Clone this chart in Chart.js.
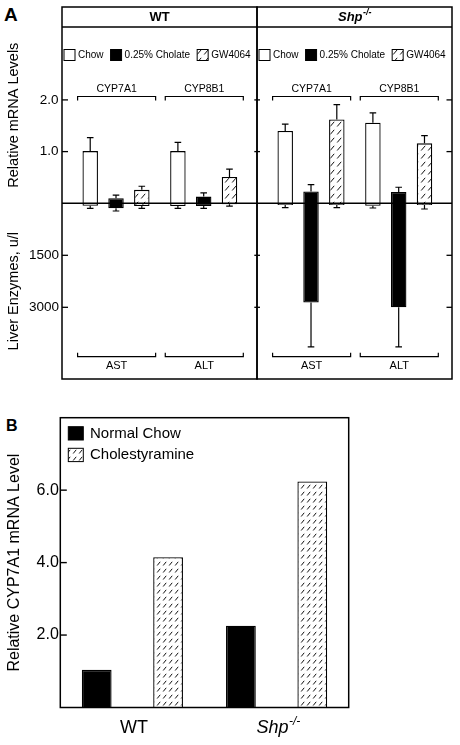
<!DOCTYPE html>
<html><head><meta charset="utf-8">
<script src="https://cdn.jsdelivr.net/npm/chart.js@4.4.1/dist/chart.umd.min.js"></script>
<style>
html,body{margin:0;padding:0;background:#fff;}
body{width:460px;height:745px;position:relative;overflow:hidden;font-family:'Liberation Sans',Arial,Helvetica,sans-serif;}
canvas{position:absolute;left:0;}
#caWT,#caShp{top:0;}
#cb{top:385px;}
.pl{position:absolute;font-weight:bold;color:#000;line-height:1;}
</style></head><body>
<div class="pl" style="left:4px;top:4.5px;font-size:19px">A</div>
<div class="pl" style="left:6px;top:418px;font-size:16px">B</div>
<canvas id="caWT" width="460" height="385"></canvas>
<canvas id="caShp" width="460" height="385"></canvas>
<canvas id="cb" width="460" height="360"></canvas>
<script>
// ---------- Panel A data ----------
const genotypes = ['WT', 'Shp-/-'];
const treatments = ['Chow', '0.25% Cholate', 'GW4064'];
const genes = ['CYP7A1', 'CYP8B1'];
const enzymes = ['AST', 'ALT'];
const mrnaTicks = [1.0, 2.0];
const enzymeTicks = [1500, 3000];

// Relative mRNA levels [CYP7A1, CYP8B1]
const wtMrnaChow = [1.01, 1.01];
const wtMrnaCholate = [0.10, 0.13];
const wtMrnaGW = [0.26, 0.51];
const wtMrnaChowErr = [0.26, 0.17];
const wtMrnaCholateErr = [0.06, 0.07];
const wtMrnaGWErr = [0.07, 0.15];
const shpMrnaChow = [1.40, 1.56];
const shpMrnaCholate = [0.23, 0.22];
const shpMrnaGW = [1.62, 1.16];
const shpMrnaChowErr = [0.13, 0.19];
const shpMrnaCholateErr = [0.13, 0.09];
const shpMrnaGWErr = [0.29, 0.15];

// Liver enzymes, u/l [AST, ALT]
const wtEnzChow = [70, 78];
const wtEnzCholate = [145, 80];
const wtEnzGW = [78, 25];
const wtEnzChowErr = [75, 67];
const wtEnzCholateErr = [77, 65];
const wtEnzGWErr = [67, 55];
const shpEnzChow = [50, 70];
const shpEnzCholate = [2860, 3000];
const shpEnzGW = [50, 50];
const shpEnzChowErr = [77, 65];
const shpEnzCholateErr = [1280, 1140];
const shpEnzGWErr = [77, 115];

// ---------- Panel B data ----------
const groupsB = ['WT', 'Shp-/-'];
const dietsB = ['Normal Chow', 'Cholestyramine'];
const cypNormalChow = [1.04, 2.26];
const cypCholestyramine = [4.15, 6.24];
const cypTicks = [2.0, 4.0, 6.0];

// ---------- styling ----------
const FONT = "'Liberation Sans', Arial, Helvetica, sans-serif";
Chart.defaults.font.family = FONT;
Chart.defaults.color = '#000';

function makeHatch(w, h) {
  const c = document.createElement('canvas');
  c.width = w; c.height = h;
  const g = c.getContext('2d');
  g.fillStyle = '#fff'; g.fillRect(0, 0, w, h);
  g.strokeStyle = '#111'; g.lineWidth = 1;
  g.beginPath(); g.moveTo(1.2, h - 1.5); g.lineTo(w - 1.8, 1.8); g.stroke();
  return g.createPattern(c, 'repeat');
}
const hatchA = makeHatch(7, 8);
const hatchB = makeHatch(6, 7);
const fillA = { 'Chow': '#ffffff', '0.25% Cholate': '#000000', 'GW4064': hatchA };

function splitSup(s) { const m = s.match(/^(.*?)(-\/-)$/); return m ? [m[1], m[2]] : [s, '']; }
function drawLabel(ctx, text, cx, cy, size, weight) {
  const [base, sup] = splitSup(text);
  const style = sup ? 'italic ' : '';
  const f1 = `${style}${weight} ${size}px ${FONT}`;
  const f2 = `${style}${weight} ${Math.round(size * 0.68)}px ${FONT}`;
  ctx.font = f1; const w1 = ctx.measureText(base).width;
  ctx.font = f2; const w2 = sup ? ctx.measureText(sup).width : 0;
  const x = cx - (w1 + w2) / 2;
  ctx.textAlign = 'left'; ctx.textBaseline = 'middle';
  ctx.font = f1; ctx.fillText(base, x, cy);
  if (sup) { ctx.font = f2; ctx.fillText(sup, x + w1 + 0.5, cy - size * 0.36); }
}
function line(ctx, x1, y1, x2, y2) { ctx.beginPath(); ctx.moveTo(x1, y1); ctx.lineTo(x2, y2); ctx.stroke(); }

// ---------- Panel A (one chart per genotype half) ----------
const seriesA = [
  { g: 0, t: 0, m: 'mrna', v: wtMrnaChow, e: wtMrnaChowErr },
  { g: 0, t: 1, m: 'mrna', v: wtMrnaCholate, e: wtMrnaCholateErr },
  { g: 0, t: 2, m: 'mrna', v: wtMrnaGW, e: wtMrnaGWErr },
  { g: 0, t: 0, m: 'enz', v: wtEnzChow, e: wtEnzChowErr },
  { g: 0, t: 1, m: 'enz', v: wtEnzCholate, e: wtEnzCholateErr },
  { g: 0, t: 2, m: 'enz', v: wtEnzGW, e: wtEnzGWErr },
  { g: 1, t: 0, m: 'mrna', v: shpMrnaChow, e: shpMrnaChowErr },
  { g: 1, t: 1, m: 'mrna', v: shpMrnaCholate, e: shpMrnaCholateErr },
  { g: 1, t: 2, m: 'mrna', v: shpMrnaGW, e: shpMrnaGWErr },
  { g: 1, t: 0, m: 'enz', v: shpEnzChow, e: shpEnzChowErr },
  { g: 1, t: 1, m: 'enz', v: shpEnzCholate, e: shpEnzCholateErr },
  { g: 1, t: 2, m: 'enz', v: shpEnzGW, e: shpEnzGWErr },
];
function datasetsFor(g) {
  return seriesA.filter(s => s.g === g).map(s => ({
    label: treatments[s.t],
    data: s.v.map((y, i) => ({ x: i, y })),
    errors: s.e,
    yAxisID: s.m === 'mrna' ? 'yM' : 'yE',
    stack: treatments[s.t],
    backgroundColor: fillA[treatments[s.t]],
    borderColor: '#000',
    borderWidth: 1.3,
    categoryPercentage: 0.8826,
    barPercentage: 0.6,
  }));
}

const HEADER_H = 20;
function panelAPlugin(g) {
  const edgeTicks = g === 0 ? [6, 2.7] : [3, 5.5];
  return {
    id: 'panelA' + g,
    afterDatasetsDraw(chart) {
      const { ctx, chartArea: ca, scales } = chart;
      const { x: xs, yM, yE } = scales;
      ctx.save();
      ctx.strokeStyle = '#000'; ctx.fillStyle = '#000';
      // error bars
      chart.data.datasets.forEach((ds, di) => {
        const meta = chart.getDatasetMeta(di);
        const ys = scales[ds.yAxisID];
        ctx.lineWidth = 1.2;
        meta.data.forEach((el, i) => {
          const yEnd = ys.getPixelForValue(ds.data[i].y + ds.errors[i]);
          ctx.beginPath();
          ctx.moveTo(el.x, el.y); ctx.lineTo(el.x, yEnd);
          ctx.moveTo(el.x - 3.3, yEnd); ctx.lineTo(el.x + 3.3, yEnd);
          ctx.stroke();
        });
      });
      // frame of this half
      const top = ca.top - HEADER_H;
      ctx.lineWidth = 1.5;
      ctx.strokeRect(ca.left, top, ca.right - ca.left, ca.bottom - top);
      line(ctx, ca.left, ca.top, ca.right, ca.top);
      const zeroY = yM.getPixelForValue(0);
      line(ctx, ca.left, zeroY, ca.right, zeroY);
      // inside ticks
      ctx.lineWidth = 1.3;
      [[yM, mrnaTicks], [yE, enzymeTicks]].forEach(([s, vals]) => vals.forEach(v => {
        const y = s.getPixelForValue(v);
        line(ctx, ca.left, y, ca.left + edgeTicks[0], y);
        line(ctx, ca.right - edgeTicks[1], y, ca.right, y);
      }));
      // header
      drawLabel(ctx, genotypes[g], (ca.left + ca.right) / 2, top + HEADER_H / 2 + 0.5, 13, 'bold');
      // legend
      let lx = ca.left + 2;
      const cy = ca.top + 28;
      ctx.font = `10px ${FONT}`; ctx.textAlign = 'left'; ctx.textBaseline = 'middle';
      treatments.forEach(t => {
        ctx.fillStyle = fillA[t];
        ctx.fillRect(lx, cy - 5.5, 11, 11);
        ctx.lineWidth = 1; ctx.strokeRect(lx, cy - 5.5, 11, 11);
        ctx.fillStyle = '#000';
        ctx.fillText(t, lx + 14, cy + 0.5);
        lx += 14 + ctx.measureText(t).width + 7;
      });
      // brackets and group labels
      ctx.lineWidth = 1.2;
      const unit = xs.getPixelForValue(1) - xs.getPixelForValue(0);
      const half = unit * 0.445;
      genes.forEach((gname, i) => {
        const cx = xs.getPixelForValue(i) + 0.6;
        const by = ca.top + 69.5;
        ctx.beginPath();
        ctx.moveTo(cx - half, by + 4); ctx.lineTo(cx - half, by); ctx.lineTo(cx + half, by); ctx.lineTo(cx + half, by + 4);
        ctx.stroke();
        ctx.font = `10.5px ${FONT}`; ctx.textAlign = 'center'; ctx.textBaseline = 'middle';
        ctx.fillText(gname, cx, ca.top + 62);
        const bb = ca.bottom - 22.3;
        ctx.beginPath();
        ctx.moveTo(cx - half, bb - 4); ctx.lineTo(cx - half, bb); ctx.lineTo(cx + half, bb); ctx.lineTo(cx + half, bb - 4);
        ctx.stroke();
        ctx.font = `11px ${FONT}`;
        ctx.fillText(enzymes[i], cx, ca.bottom - 13);
      });
      ctx.restore();
    }
  };
}

function fixedWidth(w) { return s => { s.width = w; s.paddingTop = 0; s.paddingBottom = 0; }; }

function buildPanelA(canvasId, g) {
  const showAxes = g === 0;
  const axisW = showAxes ? 62 : 0;
  const yCommon = (title) => ({
    type: 'linear', position: 'left', stack: 'rows', stacked: false,
    afterFit: fixedWidth(axisW),
    grid: { display: false, drawTicks: false }, border: { display: false },
    title: { display: showAxes, text: title, font: { size: 14.5 }, color: '#000', padding: { top: 5.6, bottom: 0 } },
  });
  new Chart(document.getElementById(canvasId), {
    type: 'bar',
    data: { datasets: datasetsFor(g) },
    options: {
      responsive: false, animation: false,
      layout: { padding: g === 0 ? { top: 27, right: 203, bottom: 6, left: 0 } : { top: 27, right: 8, bottom: 6, left: 257 } },
      plugins: { legend: { display: false }, tooltip: { enabled: false } },
      scales: {
        x: {
          type: 'linear', position: 'bottom', stacked: true, offset: false, display: false,
          min: -0.616, max: 1.608,
          afterBuildTicks: s => { s.ticks = genes.map((gn, i) => ({ value: i })); },
        },
        yM: Object.assign(yCommon('Relative mRNA Levels'), {
          stackWeight: 176.3, weight: 1, min: 0, max: 3.41,
          afterBuildTicks: s => { s.ticks = mrnaTicks.map(v => ({ value: v })); },
          ticks: { display: showAxes, callback: v => Number(v).toFixed(1), font: { size: 13.5 }, color: '#000', padding: 3.5 },
        }),
        yE: Object.assign(yCommon('Liver Enzymes, u/l'), {
          stackWeight: 175.7, weight: 0, min: 0, max: 5068, reverse: true,
          afterBuildTicks: s => { s.ticks = enzymeTicks.map(v => ({ value: v })); },
          ticks: { display: showAxes, callback: v => String(v), font: { size: 13.5 }, color: '#000', padding: 3 },
        }),
      },
    },
    plugins: [panelAPlugin(g)],
  });
}
buildPanelA('caWT', 0);
buildPanelA('caShp', 1);

// ---------- Panel B ----------
const panelBPlugin = {
  id: 'panelB',
  afterDatasetsDraw(chart) {
    const { ctx, chartArea: ca, scales: { x, y } } = chart;
    ctx.save();
    ctx.strokeStyle = '#000'; ctx.fillStyle = '#000';
    ctx.lineWidth = 1.5;
    ctx.strokeRect(ca.left, ca.top, ca.right - ca.left, ca.bottom - ca.top);
    ctx.lineWidth = 1.4;
    cypTicks.forEach(v => { const py = y.getPixelForValue(v); line(ctx, ca.left, py, ca.left + 6.5, py); });
    chart.data.datasets.forEach((ds, k) => {
      const bx = ca.left + 8, by = ca.top + 9 + k * 21.6;
      ctx.fillStyle = ds.backgroundColor; ctx.fillRect(bx, by, 15, 13.3);
      ctx.lineWidth = 1; ctx.strokeRect(bx, by, 15, 13.3);
      ctx.fillStyle = '#000'; ctx.font = `15px ${FONT}`; ctx.textAlign = 'left'; ctx.textBaseline = 'middle';
      ctx.fillText(ds.label, bx + 21.7, by + 7);
    });
    groupsB.forEach((g, i) => drawLabel(ctx, g, x.getPixelForValue(i) + 1.5, ca.bottom + 20.5, 18, 'normal'));
    ctx.restore();
  }
};

new Chart(document.getElementById('cb'), {
  type: 'bar',
  data: {
    labels: groupsB,
    datasets: [
      { label: dietsB[0], data: cypNormalChow, backgroundColor: '#000', borderColor: '#000', borderWidth: 1.3, categoryPercentage: 0.99, barPercentage: 0.417 },
      { label: dietsB[1], data: cypCholestyramine, backgroundColor: hatchB, borderColor: '#000', borderWidth: 1.3, categoryPercentage: 0.99, barPercentage: 0.417 },
    ],
  },
  options: {
    responsive: false, animation: false,
    layout: { padding: { top: 32.7, right: 111.3, bottom: 37.5, left: 0 } },
    plugins: { legend: { display: false }, tooltip: { enabled: false } },
    scales: {
      x: { type: 'category', display: false },
      y: {
        type: 'linear', position: 'left', min: 0, max: 8,
        afterBuildTicks: s => { s.ticks = cypTicks.map(v => ({ value: v })); },
        afterFit: fixedWidth(60.3),
        ticks: { callback: v => Number(v).toFixed(1), font: { size: 16 }, color: '#000', padding: 1.5 },
        grid: { display: false, drawTicks: false }, border: { display: false },
        title: { display: true, text: 'Relative CYP7A1 mRNA Level', font: { size: 16 }, color: '#000', padding: { top: 5.4, bottom: 0 } },
      },
    },
  },
  plugins: [panelBPlugin],
});
</script>
</body></html>
